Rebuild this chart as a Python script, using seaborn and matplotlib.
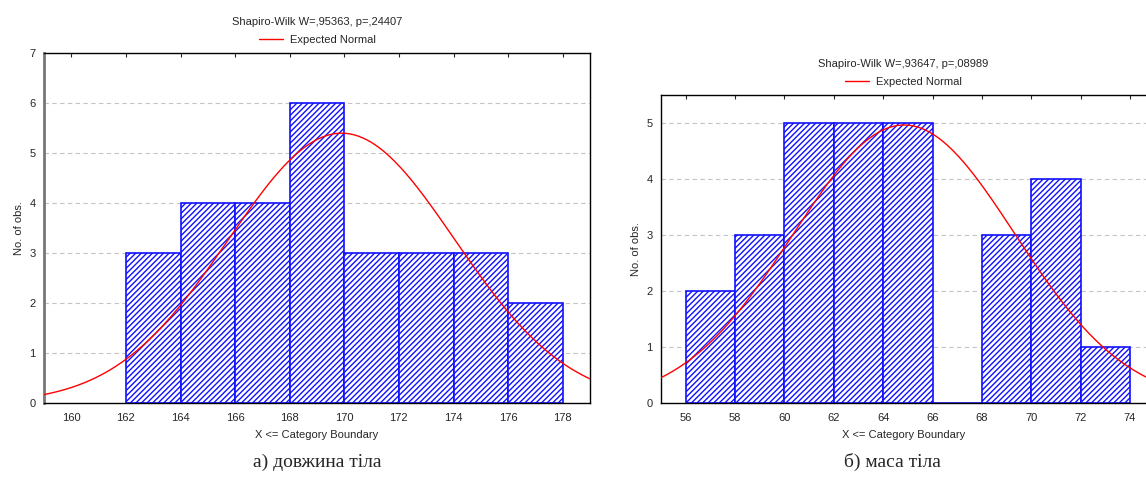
#!/usr/bin/env python3
"""
Histograms of body length and body mass with expected normal curves
"""

import numpy as np
import pandas as pd
import matplotlib
matplotlib.use("Agg")
import matplotlib.pyplot as plt
import seaborn as sns

# body length (cm), category boundaries and counts
length_edges = [162, 164, 166, 168, 170, 172, 174, 176, 178]
length_counts = [3, 4, 4, 6, 3, 3, 3, 2]
length_mean = 169.9
length_sd = 4.14
length_ticks = [160, 162, 164, 166, 168, 170, 172, 174, 176, 178]
length_yticks = [0, 1, 2, 3, 4, 5, 6, 7]
length_title = "Shapiro-Wilk W=,95363, p=,24407"
length_caption = "а) довжина тіла"

# body mass (kg), category boundaries and counts
mass_edges = [56, 58, 60, 62, 64, 66, 68, 70, 72, 74]
mass_counts = [2, 3, 5, 5, 5, 0, 3, 4, 1]
mass_mean = 64.85
mass_sd = 4.5
mass_ticks = [56, 58, 60, 62, 64, 66, 68, 70, 72, 74]
mass_yticks = [0, 1, 2, 3, 4, 5]
mass_title = "Shapiro-Wilk W=,93647, p=,08989"
mass_caption = "б) маса тіла"

BAR_BLUE = "#1010ff"
LINE_RED = "#ff0000"

sns.set_style("white")
plt.rcParams["font.family"] = ["Liberation Sans", "DejaVu Sans"]
plt.rcParams["hatch.linewidth"] = 1.0


def draw_hist(ax, edges, counts, mean, sd, xlim, ylim, xticks, yticks, title):
    """Histogram from bin counts plus expected normal curve."""
    mids = [(a + b) / 2 for a, b in zip(edges[:-1], edges[1:])]
    df = pd.DataFrame({"x": mids, "n": counts})

    sns.histplot(data=df, x="x", weights="n", bins=list(edges), ax=ax,
                 facecolor="white", edgecolor=BAR_BLUE, hatch="//////",
                 linewidth=1.2, alpha=1.0, zorder=2)

    # expected normal: n * bin width * pdf
    total = float(sum(counts))
    width = edges[1] - edges[0]
    xs = np.linspace(xlim[0], xlim[1], 400)
    ys = total * width * np.exp(-0.5 * ((xs - mean) / sd) ** 2) / (sd * np.sqrt(2 * np.pi))
    sns.lineplot(x=xs, y=ys, ax=ax, color=LINE_RED, linewidth=1.0,
                 label="Expected Normal", zorder=3)

    ax.set_xlim(*xlim)
    ax.set_ylim(*ylim)
    ax.set_xticks(xticks)
    ax.set_yticks(yticks)
    ax.yaxis.grid(True, linestyle=(0, (4, 3)), color="#c4c4c4", linewidth=0.8)
    ax.set_axisbelow(True)
    ax.tick_params(axis="x", which="both", top=True, bottom=False,
                   direction="in", length=3, labelsize=8, pad=7)
    ax.tick_params(axis="y", direction="in", length=2, labelsize=8, pad=6)
    ax.set_xlabel("X <= Category Boundary", fontsize=8, labelpad=5)
    ax.set_ylabel("No. of obs.", fontsize=8, labelpad=4)
    for side in ["top", "bottom", "left", "right"]:
        ax.spines[side].set_color("black")
        ax.spines[side].set_linewidth(1.0)

    leg = ax.legend(loc="lower center", bbox_to_anchor=(0.5, 1.0), frameon=False,
                    fontsize=8, handlelength=2.2, handletextpad=0.6,
                    borderaxespad=0.3)
    ax.text(0.5, 1.0, title, transform=ax.transAxes, ha="center", va="bottom",
            fontsize=8)
    return leg


fig = plt.figure(figsize=(11.46, 4.79), dpi=100)

ax1 = fig.add_axes([44 / 1146, 1 - 403 / 479, (590 - 44) / 1146, (403 - 53) / 479])
draw_hist(ax1, length_edges, length_counts, length_mean, length_sd,
          (159, 179), (0, 7), length_ticks, length_yticks, length_title)
ax1.spines["left"].set_color("#777777")
ax1.spines["left"].set_linewidth(2.0)
ax1.texts[0].set_position((0.5, 1.0 + 26 / 350))

ax2 = fig.add_axes([661 / 1146, 1 - 403 / 479, (1146 - 661) / 1146, (403 - 95) / 479])
draw_hist(ax2, mass_edges, mass_counts, mass_mean, mass_sd,
          (55, 74.65), (0, 5.5), mass_ticks, mass_yticks, mass_title)
ax2.spines["right"].set_visible(False)
ax2.texts[0].set_position((0.5, 1.0 + 26 / 308))

fig.text(317 / 1146, 1 - 462 / 479, length_caption, ha="center", va="center",
         fontsize=14, family=["Liberation Serif", "DejaVu Serif"])
fig.text(892 / 1146, 1 - 462 / 479, mass_caption, ha="center", va="center",
         fontsize=14, family=["Liberation Serif", "DejaVu Serif"])

fig.savefig("out.png", dpi=100)
